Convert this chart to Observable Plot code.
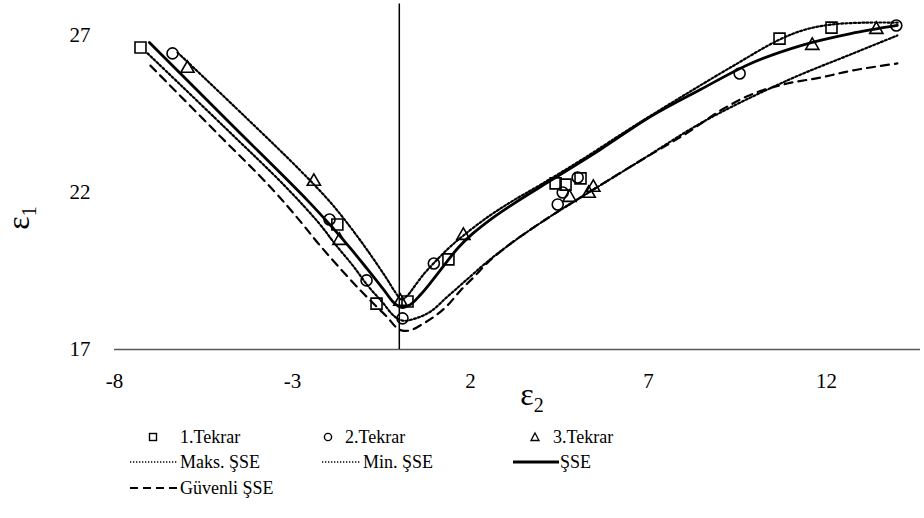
<!DOCTYPE html>
<html><head><meta charset="utf-8">
<script src="https://cdn.jsdelivr.net/npm/d3@7"></script>
<script src="https://cdn.jsdelivr.net/npm/@observablehq/plot@0.6"></script>
<style>
body{margin:0;background:#fff;font-family:"Liberation Serif","Times New Roman",serif;}
#wrap{position:relative;width:924px;height:518px;overflow:hidden;}
#chart svg{display:block;}
</style></head><body><div id="wrap"><div id="chart"></div><div id="legend"></div></div>
<script>
// ---- data ----
const t1x = [-7.27, -1.74, -0.64, 0.23, 1.38, 4.39, 4.67, 5.09, 10.68, 12.14];
const t1y = [26.62, 20.98, 18.46, 18.53, 19.87, 22.29, 22.25, 22.45, 26.90, 27.25];
const t2x = [-6.37, -1.96, -0.92, 0.09, 0.97, 4.45, 4.59, 5.01, 9.56, 13.96];
const t2y = [26.43, 21.14, 19.20, 17.99, 19.74, 21.62, 22.00, 22.48, 25.79, 27.32];
const t3x = [-5.95, -2.40, -1.68, 0.03, 1.80, 4.78, 5.32, 5.45, 11.60, 13.40];
const t3y = [25.95, 22.35, 20.47, 18.53, 20.63, 21.84, 21.97, 22.16, 26.68, 27.19];

const sseX = [-7.02, -4.80, -2.58, -1.85, -1.37, -0.89, -0.44, -0.16, 0.06, 0.31, 0.60, 0.93, 1.30, 1.66, 2.06, 2.56, 3.26, 4.25, 5.65, 7.06, 8.46, 9.87, 11.28, 12.68, 13.99];
const sseY = [26.78, 24.26, 21.75, 20.85, 20.22, 19.55, 18.91, 18.50, 18.34, 18.43, 18.75, 19.20, 19.74, 20.25, 20.69, 21.14, 21.68, 22.38, 23.37, 24.42, 25.28, 26.11, 26.68, 27.06, 27.32];

const maxX = [-6.23, -4.31, -2.78, -1.93, -1.37, -0.89, -0.39, -0.11, 0.06, 0.23, 0.40, 0.68, 0.96, 1.38, 1.80, 2.51, 3.21, 3.97, 5.09, 6.49, 7.90, 9.30, 10.68, 11.41, 12.14, 13.10, 14.0];
const maxY = [26.46, 24.39, 22.70, 21.68, 20.89, 20.15, 19.32, 18.82, 18.59, 18.72, 18.97, 19.39, 19.74, 20.22, 20.63, 21.24, 21.75, 22.25, 23.02, 24.04, 25.03, 25.98, 26.87, 27.19, 27.35, 27.41, 27.41];

const minX = [-7.07, -4.90, -3.20, -2.27, -1.79, -1.31, -0.87, -0.47, -0.16, 0.09, 0.46, 0.88, 1.33, 1.80, 2.51, 3.21, 4.11, 5.09, 6.78, 8.55, 10.90, 12.75, 13.99];
const minY = [26.43, 24.07, 22.19, 21.04, 20.34, 19.68, 19.01, 18.50, 18.08, 17.92, 17.99, 18.21, 18.66, 19.13, 19.83, 20.44, 21.14, 21.84, 23.02, 24.26, 25.57, 26.43, 27.00];

const guvX = [-6.99, -5.11, -3.61, -2.78, -2.30, -1.71, -1.09, -0.67, -0.33, -0.11, 0.06, 0.31, 0.68, 1.02, 1.35, 1.72, 2.14, 2.51, 3.21, 4.11, 5.09, 6.78, 8.10, 9.02, 9.95, 10.90, 11.83, 12.75, 13.99];
const guvY = [26.04, 23.88, 22.16, 21.08, 20.41, 19.64, 18.88, 18.40, 18.02, 17.73, 17.61, 17.61, 17.83, 18.08, 18.40, 18.88, 19.36, 19.80, 20.44, 21.14, 21.84, 23.02, 23.91, 24.61, 25.15, 25.47, 25.66, 25.89, 26.11];

const xTicks = [-8, -3, 2, 7, 12];
const yTicks = [17, 22, 27];
const legendLabels = ["1.Tekrar", "2.Tekrar", "3.Tekrar", "Maks. ŞSE", "Min. ŞSE", "ŞSE", "Güvenli ŞSE"];

// ---- build ----
const zip = (xs, ys) => xs.map((x, i) => ({x, y: ys[i]}));
const pts1 = zip(t1x, t1y), pts2 = zip(t2x, t2y), pts3 = zip(t3x, t3y);
const sse = zip(sseX, sseY), mx = zip(maxX, maxY), mn = zip(minX, minY), gv = zip(guvX, guvY);

const W = 924, H = 418;
const fam = "Liberation Serif, Times New Roman, serif";
const dotted = {stroke: "#000", strokeWidth: 2.2, strokeDasharray: "2,2.2", curve: "catmull-rom"};

const chart = Plot.plot({
  width: W, height: H,
  marginLeft: 114, marginRight: 4, marginTop: 3.6, marginBottom: H - 349,
  style: {fontFamily: fam, fontSize: "21px", color: "#000", background: "#fff"},
  x: {domain: [-8, 14.64], ticks: xTicks, tickSize: 0, tickPadding: 24, label: null, tickFormat: d => String(d)},
  y: {domain: [17, 28], ticks: yTicks, tickSize: 0, tickPadding: 24, label: null, tickFormat: d => String(d)},
  marks: [
    Plot.ruleY([17], {stroke: "#595959", strokeWidth: 1.5}),
    Plot.ruleX([0], {stroke: "#000", strokeWidth: 1.5}),
    Plot.line(gv, {x: "x", y: "y", stroke: "#000", strokeWidth: 2.2, strokeDasharray: "8,6", curve: "catmull-rom"}),
    Plot.line(mn, {x: "x", y: "y", ...dotted}),
    Plot.line(mx, {x: "x", y: "y", ...dotted}),
    Plot.line(sse, {x: "x", y: "y", stroke: "#000", strokeWidth: 2.8, curve: "catmull-rom"}),
    Plot.dot(pts1, {x: "x", y: "y", symbol: "square", r: 6.2, stroke: "#000", strokeWidth: 1.6, fill: "none"}),
    Plot.dot(pts2, {x: "x", y: "y", symbol: "circle", r: 5.5, stroke: "#000", strokeWidth: 1.6, fill: "none"}),
    Plot.dot(pts3, {x: "x", y: "y", symbol: "triangle", r: 4.9, stroke: "#000", strokeWidth: 1.6, fill: "none"})
  ]
});
document.getElementById("chart").appendChild(chart);

const svg = d3.select(chart);
svg.selectAll("text").attr("font-family", fam).style("font-family", fam).attr("fill", "#000");

// axis titles
const xt = svg.append("text").attr("x", 532).attr("y", 405).attr("font-family", fam).attr("fill", "#000");
xt.append("tspan").attr("font-size", 32).text("ε");
xt.append("tspan").attr("font-size", 20).attr("dy", 7).text("2");
const yt = svg.append("text").attr("transform", "translate(29,218) rotate(-90)").attr("font-family", fam).attr("fill", "#000");
yt.append("tspan").attr("font-size", 32).text("ε");
yt.append("tspan").attr("font-size", 20).attr("dy", 7).text("1");

// legend
const L = d3.select("#legend").append("svg").attr("width", W).attr("height", 100)
  .style("display", "block").attr("font-family", fam).style("font-size", "18px");
const rows = [19, 44, 70];
const items = [
  {type: "square", mx: 153, tx: 180, row: 0},
  {type: "circle", mx: 328, tx: 345, row: 0},
  {type: "triangle", mx: 535, tx: 553, row: 0},
  {type: "dotted", x1: 130, x2: 177, tx: 180, row: 1},
  {type: "dotted", x1: 322, x2: 360, tx: 363, row: 1},
  {type: "solid", x1: 513, x2: 559, tx: 560, row: 1},
  {type: "dashed", x1: 130, x2: 177, tx: 180, row: 2}
];
items.forEach((it, i) => {
  const cy = rows[it.row];
  if (it.type === "square") L.append("rect").attr("x", it.mx - 3.5).attr("y", cy - 3.5).attr("width", 7).attr("height", 7).attr("fill", "none").attr("stroke", "#000").attr("stroke-width", 1.4);
  else if (it.type === "circle") L.append("circle").attr("cx", it.mx).attr("cy", cy).attr("r", 3.6).attr("fill", "none").attr("stroke", "#000").attr("stroke-width", 1.4);
  else if (it.type === "triangle") L.append("path").attr("d", `M${it.mx},${cy-4}L${it.mx+4},${cy+3.5}L${it.mx-4},${cy+3.5}Z`).attr("fill", "none").attr("stroke", "#000").attr("stroke-width", 1.3);
  else {
    const ln = L.append("line").attr("x1", it.x1).attr("x2", it.x2).attr("y1", cy).attr("y2", cy).attr("stroke", "#000");
    if (it.type === "dotted") ln.attr("stroke-width", 1.4).attr("stroke-dasharray", "1.3,1.7");
    if (it.type === "solid") ln.attr("stroke-width", 2.8);
    if (it.type === "dashed") ln.attr("stroke-width", 2).attr("stroke-dasharray", "8,5");
  }
  L.append("text").attr("x", it.tx).attr("y", cy).attr("dy", "0.35em").attr("fill", "#000").text(legendLabels[i]);
});
</script></body></html>
